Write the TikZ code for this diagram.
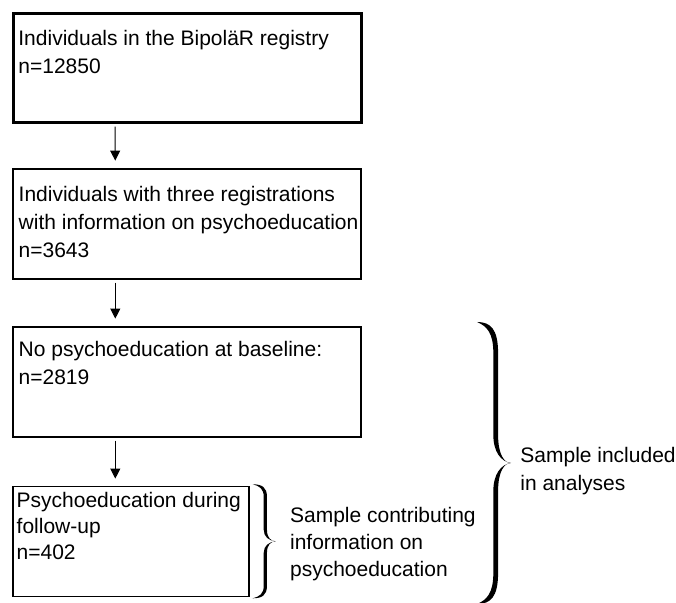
\documentclass[tikz,border=0pt]{standalone}
\usepackage{fontspec}
\setmainfont{Liberation Sans}
\usetikzlibrary{positioning,arrows.meta}

\tikzset{
    curly/.pic={
        % right-facing curly brace, left edge at x=0, tip at (1,0)
        \fill (0,1) .. controls (0.4,1) and (0.62,0.95) .. (0.62,0.78)
            -- (0.62,0.2) .. controls (0.62,0.06) and (0.8,0) .. (1,0)
            .. controls (0.8,0) and (0.62,-0.06) .. (0.62,-0.2)
            -- (0.62,-0.78) .. controls (0.62,-0.95) and (0.4,-1) .. (0,-1)
            .. controls (0.3,-0.97) and (0.48,-0.92) .. (0.48,-0.78)
            -- (0.48,-0.2) .. controls (0.48,-0.08) and (0.7,-0.01) .. (1,0)
            .. controls (0.7,0.01) and (0.48,0.08) .. (0.48,0.2)
            -- (0.48,0.78) .. controls (0.48,0.92) and (0.3,0.97) .. (0,1) -- cycle;
    }
}

\begin{document}
\begin{tikzpicture}[x=0.5pt, y=-0.5pt,
                        box/.style={
                            draw,
                            line width=1pt,
                            minimum width=174pt,
                            minimum height=55pt,
                            inner sep=0pt
                        },
                        boxtext/.style={
                            font=\fontsize{10.5}{14}\selectfont,
                            inner sep=0pt,
                            align=left,
                            anchor=north west
                        },
                        flowarrow/.style={
                            -{Triangle[width=5pt,length=5pt]},
                            line width=0.5pt,
                            shorten <=1.5pt,
                            shorten >=3.5pt
                        }
                    ]

                    \useasboundingbox (0,0) rectangle (676,603);

                    % Registry (top)
                    \node[box,
                        line width=1.3pt,
                        minimum height=54.5pt,
                        anchor=north west
                    ] (registry) at (12,12) {};

                    \node[boxtext] (registrytext)
                        at ([xshift=3pt, yshift=-9pt] registry.north west)
                        {Individuals in the BipoläR registry\\n=12850};

                    % Three registrations
                    \node[box, below=22pt of registry] (threereg) {};

                    \node[boxtext] (threeregtext)
                        at ([xshift=3pt, yshift=-9pt] threereg.north west)
                        {Individuals with three registrations\\with information on psychoeducation\\n=3643};

                    % No psychoeducation at baseline
                    \node[box, below=23pt of threereg] (baseline) {};

                    \node[boxtext] (baselinetext)
                        at ([xshift=3pt, yshift=-7.5pt] baseline.north west)
                        {No psychoeducation at baseline:\\n=2819};

                    % Psychoeducation during follow-up
                    \node[box,
                        line width=0.7pt,
                        minimum width=118pt,
                        below=24pt of baseline.south west,
                        anchor=north west
                    ] (followup) {};

                    \node[boxtext, font=\fontsize{10.5}{13}\selectfont] (followuptext)
                        at ([xshift=2pt, yshift=-3pt] followup.north west)
                        {Psychoeducation during\\follow-up\\n=402};

                    % arrows
                    \draw[flowarrow] ([xshift=51.5pt] registry.south west) -- ([xshift=51.5pt] threereg.north west);
                    \draw[flowarrow] ([xshift=51.5pt] threereg.south west) -- ([xshift=51.5pt] baseline.north west);
                    \draw[flowarrow] ([xshift=51.5pt] baseline.south west) -- ([xshift=51.5pt] followup.north west);

                    % Braces
                    \coordinate (smallbraceleft) at ([xshift=1.5pt] followup.east);
                    \pic[x=11.5pt, y=28.5pt] at (smallbraceleft) {curly};

                    \node[boxtext, anchor=west, font=\fontsize{10.5}{13.5}\selectfont] (smalllabel)
                        at ([xshift=18.5pt, yshift=-1.5pt] smallbraceleft)
                        {Sample contributing\\information on\\psychoeducation};

                    \coordinate (bigbraceleft) at (477,463);
                    \pic[x=17pt, y=70.5pt] at (bigbraceleft) {curly};

                    \node[boxtext, anchor=west] (biglabel)
                        at ([xshift=21.5pt, yshift=-4pt] bigbraceleft)
                        {Sample included\\in analyses};
                    \end{tikzpicture}
\end{document}
